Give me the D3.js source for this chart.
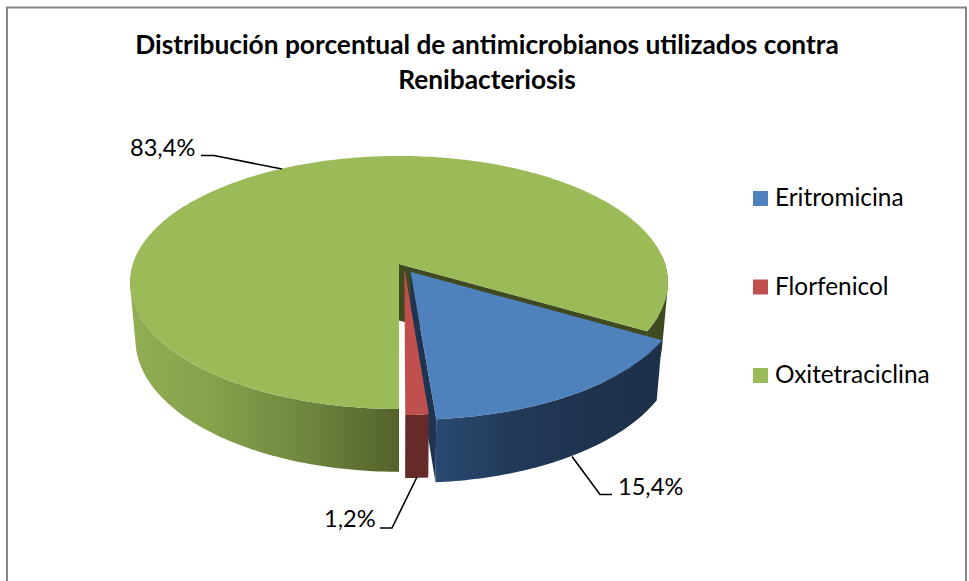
<!DOCTYPE html>
<html>
<head>
<meta charset="utf-8">
<title>Renibacteriosis</title>
<script src="https://cdn.jsdelivr.net/npm/d3@7"></script>
<style>
  body { margin: 0; background: #fff; }
  text { font-family: Lato, "Open Sans", sans-serif; fill: #000; }
</style>
</head>
<body>
<div id="graph-container"></div>
<script>
// Données
const categories = ["Eritromicina", "Florfenicol", "Oxitetraciclina"];
const values = [15.4, 1.2, 83.4];
const titleLines = ["Distribución porcentual de antimicrobianos utilizados contra", "Renibacteriosis"];

// Couleurs : dessus, puis paroi
const topColors = ["#4f81bd", "#c0504d", "#9bbb59"];
const wallColors = ["#1f3450", "#652b29", "#3f4a20"];

const width = 969, height = 581;

const svg = d3.select("#graph-container")
  .append("svg")
  .attr("width", width)
  .attr("height", height);

// Cadre (le bas sort de l'image)
svg.append("rect")
  .attr("x", 7).attr("y", 7.5)
  .attr("width", 959).attr("height", 600)
  .attr("fill", "#fff")
  .attr("stroke", "#868686")
  .attr("stroke-width", 2);

// Titre
svg.selectAll(".title")
  .data(titleLines)
  .join("text")
  .attr("class", "title")
  .attr("x", 487)
  .attr("y", (d, i) => 53.5 + i * 35)
  .attr("text-anchor", "middle")
  .style("font-size", "26.3px")
  .style("font-weight", "bold")
  .text(d => d);

// Projection du disque vers l'écran (perspective)
const cx = 399, cy = 264;
const rx = 266, ry = 123.8, persp = 0.1462;
const wallHeight = 56.5, wallPersp = 0.1, wallShrink = 0.98;

function project(angle, radius, off) {
  const u = Math.sin(angle) * radius + off[0];
  const v = -Math.cos(angle) * radius + off[1];
  const w = 1 - persp * v;
  return [cx + rx * u / w, cy + ry * v / w, v];
}

function lower(p) {
  return [cx + (p[0] - cx) * wallShrink, p[1] + wallHeight / (1 - wallPersp * p[2])];
}

// Tranches : la fin d'Oxitetraciclina tombe à 6 h
const total = d3.sum(values);
const firstAngle = Math.PI - (values[0] + values[1]) / total * 2 * Math.PI;
const slices = d3.pie().sort(null).value(d => d)
  .startAngle(firstAngle).endAngle(firstAngle + 2 * Math.PI)(values);

// Écartement de chaque tranche
const explode = [[0.043, 0.062], [0.02, 0.035], [0, 0]];

const line = d3.line();

function rimPoints(a0, a1, off) {
  const n = Math.max(2, Math.ceil(Math.abs(a1 - a0) * 60));
  return d3.range(n + 1).map(i => project(a0 + (a1 - a0) * i / n, 1, off));
}

function topPath(slice, off) {
  const apex = project(0, 0, off);
  return line([apex, ...rimPoints(slice.startAngle, slice.endAngle, off)]) + "Z";
}

// Paroi extérieure : une bande par segment, toutes dans le même sens
// pour que le contour suive bien la tangente du disque
function outerWall(a0, a1, off) {
  const rim = rimPoints(a0, a1, off);
  return d3.pairs(rim).map(([p, q]) => {
    const quad = [p, q, lower(q), lower(p)].map(d => [d[0], d[1]]);
    if (d3.polygonArea(quad) < 0) quad.reverse();
    return line(quad) + "Z";
  }).join("");
}

function sideWall(angle, off) {
  const apex = project(0, 0, off), rim = project(angle, 1, off);
  return line([apex, rim, lower(rim), lower(apex)]) + "Z";
}

// Dégradés des parois
const defs = svg.append("defs");
function wallGradient(id, x1, x2, stops) {
  const g = defs.append("linearGradient")
    .attr("id", id)
    .attr("gradientUnits", "userSpaceOnUse")
    .attr("x1", x1).attr("x2", x2)
    .attr("y1", 0).attr("y2", 0);
  stops.forEach(s => g.append("stop").attr("offset", s[0]).attr("stop-color", s[1]));
}
wallGradient("wall-green", 129, 399, [[0, "#90ae53"], [0.3, "#86a34c"], [0.65, "#6f8640"], [1, "#53622a"]]);
wallGradient("wall-blue", 434, 660, [[0, "#2a4a72"], [0.3, "#233c5c"], [0.6, "#1f3450"], [1, "#1e3049"]]);

const pie = svg.append("g").attr("class", "pie");
const [blue, red, green] = slices;

// Oxitetraciclina
pie.append("path").attr("d", outerWall(green.endAngle - 2 * Math.PI - 0.6, green.endAngle - 2 * Math.PI, [0, 0])).attr("fill", wallColors[2]);
pie.append("path").attr("d", sideWall(green.endAngle, [0, 0])).attr("fill", wallColors[2]);
pie.append("path").attr("d", outerWall(green.startAngle, green.startAngle + 2.1, [0, 0])).attr("fill", "url(#wall-green)");
pie.append("path").attr("d", topPath(green, [0, 0])).attr("fill", topColors[2]);

// Eritromicina
pie.append("path").attr("d", sideWall(blue.endAngle, explode[0])).attr("fill", wallColors[0]);
pie.append("path").attr("d", outerWall(blue.startAngle, blue.endAngle, explode[0])).attr("fill", "url(#wall-blue)");
pie.append("path").attr("d", topPath(blue, explode[0])).attr("fill", topColors[0]);

// Florfenicol
pie.append("path").attr("d", outerWall(red.startAngle, red.endAngle, explode[1])).attr("fill", wallColors[1]);
pie.append("path").attr("d", topPath(red, explode[1])).attr("fill", topColors[1]);

// Étiquettes et lignes de rappel
const labelLayout = [
  { x: 618, y: 495, path: [[572, 456.5], [600, 494.5], [612, 494.5]] },
  { x: 324, y: 527, path: [[417, 477], [392, 528], [380, 528]] },
  { x: 130, y: 156, path: [[282, 169], [214, 155.5], [201, 155.5]] }
];

values.forEach((v, i) => {
  const lab = labelLayout[i];
  svg.append("path")
    .attr("d", line(lab.path))
    .attr("fill", "none")
    .attr("stroke", "#000")
    .attr("stroke-width", 1.6);
  svg.append("text")
    .attr("x", lab.x)
    .attr("y", lab.y)
    .style("font-size", "23.6px")
    .text(d3.format(".1f")(v).replace(".", ",") + "%");
});

// Légende
const legendY = d3.scalePoint().domain(categories).range([191, 368]);
const legend = svg.selectAll(".legend")
  .data(categories)
  .join("g")
  .attr("class", "legend")
  .attr("transform", d => `translate(753,${legendY(d)})`);

legend.append("rect")
  .attr("width", 15)
  .attr("height", 15)
  .attr("fill", (d, i) => topColors[i]);

legend.append("text")
  .attr("x", 22)
  .attr("y", 15)
  .style("font-size", "24.4px")
  .text(d => d);
</script>
</body>
</html>
